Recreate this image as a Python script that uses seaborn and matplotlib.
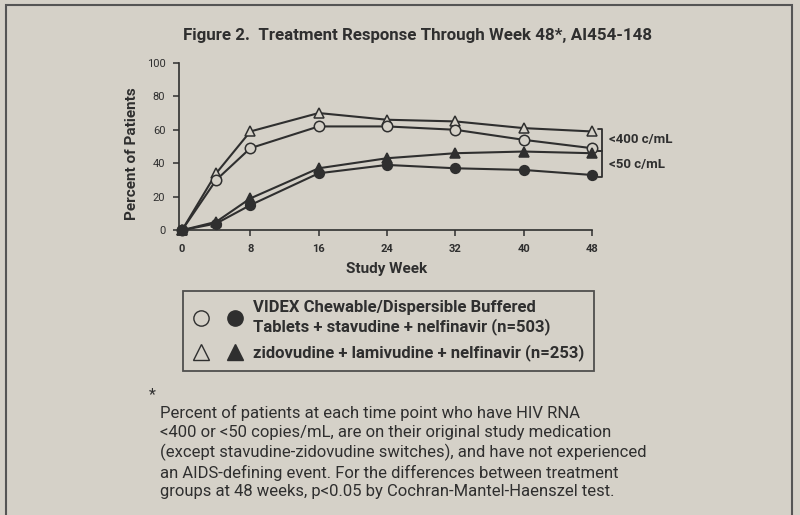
import pandas as pd
import matplotlib.pyplot as plt
import seaborn as sns
from matplotlib.legend_handler import HandlerTuple
from matplotlib.lines import Line2D
from matplotlib.patches import Rectangle

weeks = [0, 4, 8, 16, 24, 32, 40, 48]

# percent of patients
videx_400 = [0, 30, 49, 62, 62, 60, 54, 49]
zdv_400 = [0, 34, 59, 70, 66, 65, 61, 59]
videx_50 = [0, 4, 15, 34, 39, 37, 36, 33]
zdv_50 = [0, 5, 19, 37, 43, 46, 47, 46]

x_ticks = [0, 8, 16, 24, 32, 40, 48]
y_ticks = [0, 20, 40, 60, 80, 100]

legend_labels = [
    "VIDEX Chewable/Dispersible Buffered\nTablets + stavudine + nelfinavir (n=503)",
    "zidovudine + lamivudine + nelfinavir (n=253)",
]

bg = "#d5d1c8"
ink = "#2f2f2f"
font = ["Roboto", "DejaVu Sans"]

sns.set_theme(style="ticks")
plt.rcParams["font.family"] = font

df = pd.DataFrame({
    "week": weeks,
    "videx_400": videx_400,
    "zdv_400": zdv_400,
    "videx_50": videx_50,
    "zdv_50": zdv_50,
})

fig = plt.figure(figsize=(8, 5.15), dpi=100, facecolor=bg)
ax = fig.add_axes([0.2275, 0.553, 0.5125, 0.325])
ax.set_facecolor(bg)

styles = {
    "zdv_400": dict(marker="^", markerfacecolor=bg, markersize=7.5),
    "videx_400": dict(marker="o", markerfacecolor=bg, markersize=7.5),
    "zdv_50": dict(marker="^", markerfacecolor=ink, markersize=7),
    "videx_50": dict(marker="o", markerfacecolor=ink, markersize=7),
}
for col, st in styles.items():
    sns.lineplot(data=df, x="week", y=col, ax=ax, color=ink, linewidth=1.5,
                 markeredgecolor=ink, markeredgewidth=1.1, clip_on=False, **st)

ax.set_xlim(0, 48)
ax.set_ylim(0, 100)
ax.set_xticks(x_ticks)
ax.set_yticks(y_ticks)
ax.tick_params(colors=ink, labelsize=8, length=4, width=1.1, pad=6)
for lab in ax.get_xticklabels() + ax.get_yticklabels():
    lab.set_fontweight("bold")
ax.set_xlabel("Study Week", fontsize=11, fontweight="bold", color=ink, labelpad=6)
ax.set_ylabel("Percent of Patients", fontsize=11, fontweight="bold", color=ink)
ax.yaxis.set_label_coords(-0.105, 0.46)
for side in ["top", "right"]:
    ax.spines[side].set_visible(False)
for side in ["left", "bottom"]:
    ax.spines[side].set_color(ink)
    ax.spines[side].set_linewidth(1.2)
ax.spines["left"].set_position(("outward", 2))

# brackets for the two response thresholds
bx = 49.2
groups = [("<400 c/mL", videx_400[-1], zdv_400[-1]), ("<50 c/mL", videx_50[-1], zdv_50[-1])]
for text, lo, hi in groups:
    lo, hi = lo - 1.5, hi + 1.5
    ax.plot([bx - 0.5, bx, bx, bx - 0.5], [hi, hi, lo, lo], color=ink, lw=1.3, clip_on=False)
    ax.text(bx + 0.8, (lo + hi) / 2, text, fontsize=9.5, fontweight="bold", color=ink,
            va="center", ha="left")

fig.text(0.522, 0.932, "Figure 2.  Treatment Response Through Week 48*, AI454-148",
         ha="center", va="center", fontsize=12.2, fontweight="bold", color=ink)

handles = [
    (Line2D([], [], ls="", marker="o", ms=11, mfc=bg, mec=ink, mew=1),
     Line2D([], [], ls="", marker="o", ms=11, mfc=ink, mec=ink)),
    (Line2D([], [], ls="", marker="^", ms=12, mfc=bg, mec=ink, mew=1),
     Line2D([], [], ls="", marker="^", ms=12, mfc=ink, mec=ink)),
]
leg = fig.legend(handles, legend_labels, handler_map={tuple: HandlerTuple(ndivide=None, pad=1.0)},
                 loc="upper left", bbox_to_anchor=(0.229, 0.435), borderaxespad=0,
                 frameon=True, fancybox=False,
                 handlelength=3.1, handletextpad=0.55, borderpad=0.55, labelspacing=0.55,
                 prop={"family": font, "weight": "bold", "size": 12}, facecolor=bg,
                 edgecolor=ink)
leg.get_frame().set_linewidth(1.3)
for t in leg.get_texts():
    t.set_color(ink)
    t.set_linespacing(1.25)

fig.text(0.186, 0.234, "*", fontsize=11.5, color=ink, va="center")
fig.text(0.2, 0.122,
         "Percent of patients at each time point who have HIV RNA\n"
         "<400 or <50 copies/mL, are on their original study medication\n"
         "(except stavudine-zidovudine switches), and have not experienced\n"
         "an AIDS-defining event. For the differences between treatment\n"
         "groups at 48 weeks, p<0.05 by Cochran-Mantel-Haenszel test.",
         fontsize=12, color=ink, va="center", ha="left", linespacing=1.3)

fig.patches.append(Rectangle((0.007, -0.05), 0.983, 1.04, transform=fig.transFigure,
                             fill=False, edgecolor="#555555", lw=1.5))

fig.savefig("out.png", dpi=100, facecolor=bg)
